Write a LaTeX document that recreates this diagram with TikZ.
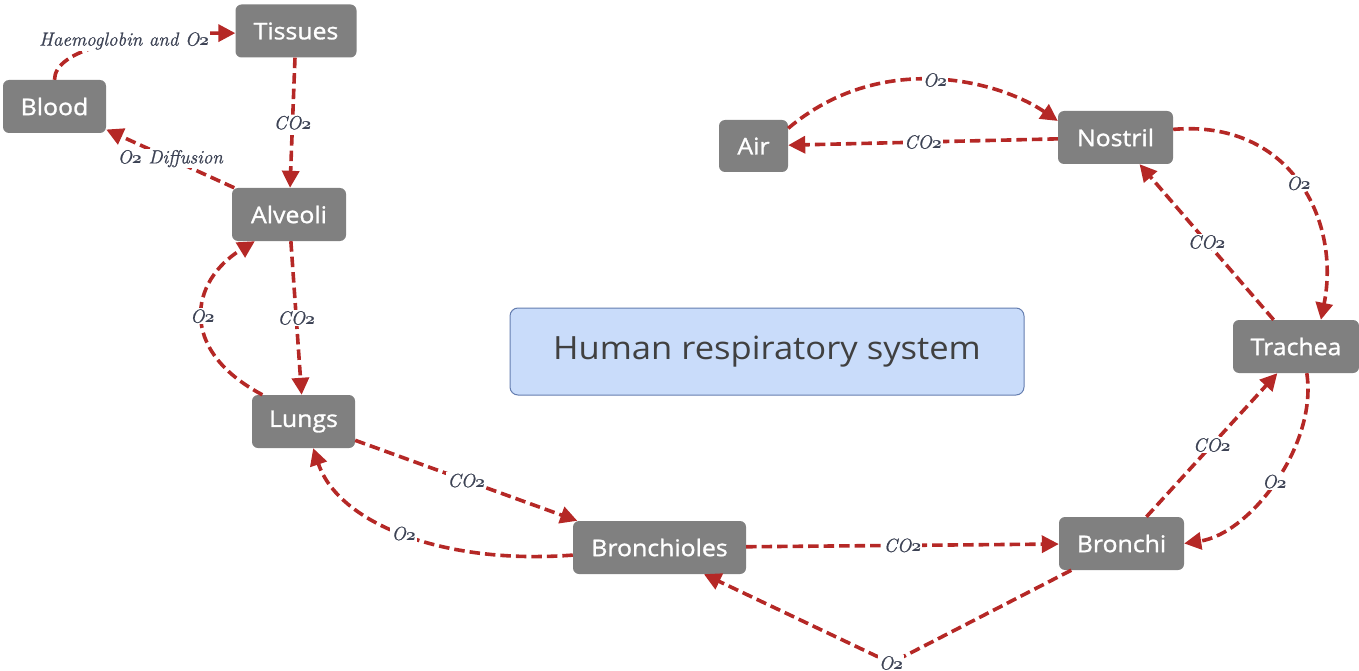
\documentclass[tikz,border=0pt]{standalone}
\usepackage{fontspec}
\newfontfamily\nodefont{Open Sans}[FakeBold=1.2, FakeStretch=1.08]
\newfontfamily\titlefont{Open Sans}[FakeStretch=1.08]
\newfontfamily\labfont{Latin Modern Roman}[FakeBold=0.9]
\usetikzlibrary{arrows.meta}
\definecolor{edgered}{RGB}{181,40,38}
\definecolor{boxgrey}{RGB}{128,128,128}
\definecolor{titlefill}{RGB}{201,220,250}
\definecolor{titledraw}{RGB}{100,125,175}
\definecolor{titletext}{RGB}{64,64,64}
\definecolor{labtext}{RGB}{60,66,84}
\newcommand{\osTwo}{{\usefont{OML}{cmm}{b}{it}2}}
\tikzset{
  box/.style={rectangle, rounded corners=6pt, fill=boxgrey, text=white,
    font=\nodefont\fontsize{23}{27}\selectfont, minimum height=53pt, inner sep=0pt},
  titlebox/.style={rectangle, rounded corners=8pt, fill=titlefill, draw=titledraw,
    line width=1pt, text=titletext, font=\titlefont\fontsize{32}{38}\selectfont, inner sep=0pt},
  flow/.style={draw=edgered, line width=3.6pt, dash pattern=on 10.5pt off 5pt,
    -{Triangle[length=17pt,width=17pt]}},
  lab/.style={fill=white, inner sep=1.2pt, text=labtext, font=\labfont\fontsize{19}{22}\selectfont\itshape},
}
\begin{document}
\begin{tikzpicture}[x=1pt,y=-1pt]
\useasboundingbox (0,0) rectangle (1359,671);
% nodes
\node[box, minimum width=121pt] (tissues) at (296,31) {Tissues};
\node[box, minimum width=103pt] (blood) at (54.5,106.5) {Blood};
\node[box, minimum width=114pt] (alveoli) at (289,214.5) {Alveoli};
\node[box, minimum width=103pt] (lungs) at (303.5,421.5) {Lungs};
\node[box, minimum width=173pt] (bronchioles) at (659.5,547.5) {Bronchioles};
\node[box, minimum width=125pt] (bronchi) at (1121.5,543.5) {Bronchi};
\node[box, minimum width=126pt] (trachea) at (1296,346.5) {Trachea};
\node[box, minimum width=115pt] (nostril) at (1115.5,137.5) {Nostril};
\node[box, minimum width=69pt, minimum height=52pt] (air) at (753.5,146) {Air};
\node[titlebox, minimum width=514pt, minimum height=87pt] (title) at (767,351.5) {Human respiratory system};
% connectors
\draw[flow] (blood.north) .. controls +(0,-30) and +(-110,0) .. node[lab, pos=0.6]{Haemoglobin and O\osTwo} (tissues.182);
\draw[flow] (tissues) -- node[lab]{CO\osTwo} (alveoli);
\draw[flow] (alveoli.154) -- node[lab]{O\osTwo\ Diffusion} (blood.336);
\draw[flow] (alveoli) -- node[lab]{CO\osTwo} (lungs);
\draw[flow] (lungs.147) .. controls +(-85,-45) and +(-65,40) .. node[lab]{O\osTwo} (alveoli.218);
\draw[flow] (lungs.340) -- node[lab]{CO\osTwo} (bronchioles.162);
\draw[flow] (bronchioles.185) .. controls +(-130,10) and +(25,75) .. node[lab]{O\osTwo} (lungs.290);
\draw[flow] (bronchioles) -- node[lab]{CO\osTwo} (bronchi);
\coordinate (vtx) at (891,663);
\draw[flow] (bronchi.208) -- (vtx) node[lab]{O\osTwo} -- (bronchioles.329);
\draw[flow] (bronchi.47) -- node[lab]{CO\osTwo} (trachea.235);
\draw[flow] (trachea.292) .. controls +(11,72) and +(66,-10) .. node[lab]{O\osTwo} (bronchi.east);
\draw[flow] (trachea.130) -- node[lab]{CO\osTwo} (nostril.312);
\draw[flow] (nostril.8) .. controls +(117,-10) and +(20,-100) .. node[lab]{O\osTwo} (trachea.47);
\draw[flow] (nostril) -- node[lab]{CO\osTwo} (air);
\draw[flow] (air.27) .. controls +(92,-78) and +(-60,-41) .. node[lab]{O\osTwo} (nostril.164);
\end{tikzpicture}
\end{document}
